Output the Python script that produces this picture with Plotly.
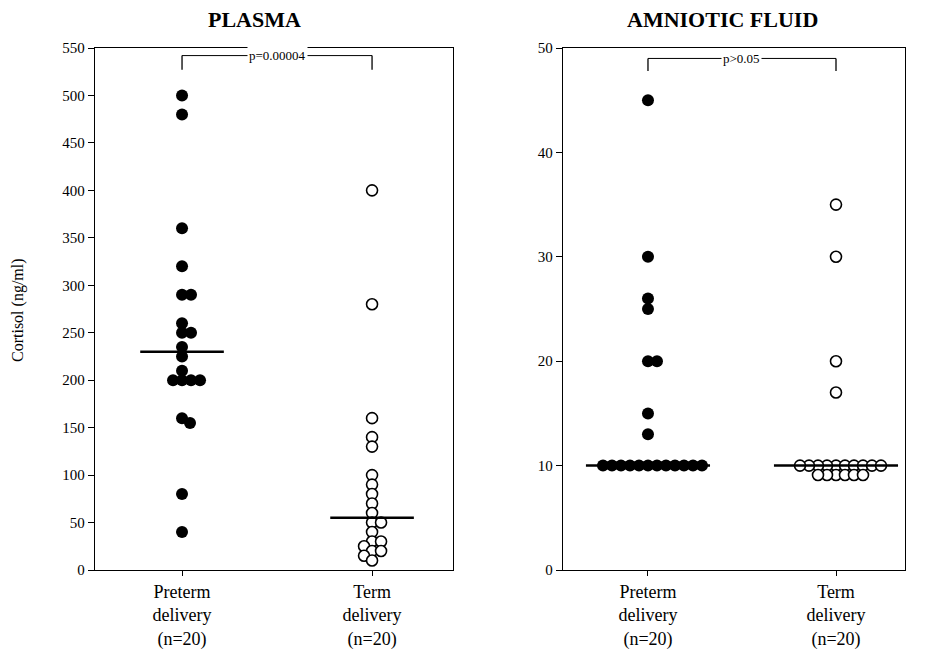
import numpy as np
import plotly.graph_objects as go

# ---- data ----
categories = ["Preterm<br>delivery<br>(n=20)", "Term<br>delivery<br>(n=20)"]
plasma_preterm = [500, 480, 360, 320, 290, 290, 260, 250, 250, 235, 225, 210,
                  200, 200, 200, 200, 160, 155, 80, 40]
plasma_term = [400, 280, 160, 140, 130, 100, 90, 80, 70, 60, 50, 50, 40, 30,
               30, 25, 20, 20, 15, 10]
amnio_preterm = [45, 30, 26, 25, 20, 20, 15, 13, 10, 10, 10, 10, 10, 10, 10,
                 10, 10, 10, 10, 10]
amnio_term = [35, 30, 20, 17, 10, 10, 10, 10, 10, 10, 10, 10, 10, 10,
              9.1, 9.1, 9.1, 9.1, 9.1, 9.1]
plasma_ticks = list(range(0, 551, 50))
amnio_ticks = list(range(0, 51, 10))
p_plasma = "p=0.00004"
p_amnio = "p>0.05"

W, H = 930, 660
OFF = 8  # page body margin
FONT = "Liberation Serif"

# panel geometry (pixels, as seen in the page)
L_X0, L_X1 = 95, 453
R_X0, R_X1 = 563, 905
Y_TOP, Y_BOT = 48, 570
L_XR = [0.542, 2.426]
R_XR = [0.548, 2.367]
L_YR = [0, 550]
R_YR = [0, 50]
D = 12  # marker diameter in px


def swarm(values, xpx_per_unit, ypx_per_unit, d=D, min_frac=0.75):
    """Simple deterministic beeswarm: returns x offsets in data units."""
    order = np.argsort(-np.asarray(values, dtype=float), kind="stable")
    placed = []
    offs = np.zeros(len(values))
    for i in order:
        ypx = values[i] * ypx_per_unit
        best = None
        for k in range(0, 300):
            for s in ([0] if k == 0 else [k, -k]):
                ok = all((s - px) ** 2 + (ypx - py) ** 2 >= (d * min_frac) ** 2 - 1e-6
                         for px, py in placed)
                if ok:
                    best = s
                    break
            if best is not None:
                break
        placed.append((best, ypx))
        offs[i] = best / xpx_per_unit
    return offs


fig = go.Figure()

panels = [
    ("x", "y", plasma_preterm, plasma_term, L_X0, L_X1, L_XR, L_YR, 0.22),
    ("x2", "y2", amnio_preterm, amnio_term, R_X0, R_X1, R_XR, R_YR, 0.33),
]

for xa, ya, pre, term, x0, x1, xr, yr, half in panels:
    xppu = (x1 - x0) / (xr[1] - xr[0])
    yppu = (Y_BOT - Y_TOP) / (yr[1] - yr[0])
    for ci, (vals, filled) in enumerate([(pre, True), (term, False)]):
        cx = ci + 1
        offs = swarm(vals, xppu, yppu)
        fig.add_trace(go.Scatter(
            x=cx + offs, y=vals, mode="markers", xaxis=xa, yaxis=ya,
            cliponaxis=False, showlegend=False,
            marker=dict(size=D if filled else D - 1,
                        color="black" if filled else "white",
                        line=dict(color="black", width=0 if filled else 1.6)),
        ))
        med = float(np.median(vals))
        fig.add_trace(go.Scatter(
            x=[cx - half, cx + half], y=[med, med], mode="lines",
            xaxis=xa, yaxis=ya, showlegend=False, cliponaxis=False,
            line=dict(color="black", width=2.5),
        ))


def bracket(xa, ya, ytop, ybot, text):
    fig.add_shape(type="line", xref=xa, yref=ya, x0=1, x1=2, y0=ytop, y1=ytop,
                  line=dict(color="black", width=1))
    fig.add_shape(type="line", xref=xa, yref=ya, x0=1, x1=1, y0=ytop, y1=ybot,
                  line=dict(color="black", width=1.3))
    fig.add_shape(type="line", xref=xa, yref=ya, x0=2, x1=2, y0=ytop, y1=ybot,
                  line=dict(color="black", width=1.3))
    fig.add_annotation(x=1.5, y=ytop, xref=xa, yref=ya, text=text,
                       showarrow=False, bgcolor="white", borderpad=1,
                       xanchor="center", yanchor="middle",
                       font=dict(family=FONT, size=13, color="black"))


bracket("x", "y", 542, 527, p_plasma)
bracket("x2", "y2", 49.0, 47.8, p_amnio)


def px2paper_x(px):
    return (px - OFF) / W


def px2paper_y(py):
    return (H - (py - OFF)) / H


ax_common = dict(showline=True, linecolor="black", linewidth=1.3, mirror=True,
                 showgrid=False, zeroline=False, ticks="outside", automargin=False,
                 tickcolor="black")
yfont = dict(family=FONT, size=15, color="black")
xfont = dict(family=FONT, size=18, color="black")

fig.update_layout(
    width=W, height=H, margin=dict(l=0, r=0, t=0, b=0, autoexpand=False),
    paper_bgcolor="white", plot_bgcolor="white",
    xaxis=dict(domain=[px2paper_x(L_X0), px2paper_x(L_X1)], range=L_XR,
               tickvals=[1, 2], ticktext=categories, ticklen=5, anchor="y",
               tickfont=xfont, **ax_common),
    yaxis=dict(domain=[px2paper_y(Y_BOT), px2paper_y(Y_TOP)], range=L_YR,
               tickvals=plasma_ticks, ticklen=6, anchor="x", tickfont=yfont,
               **ax_common),
    xaxis2=dict(domain=[px2paper_x(R_X0), px2paper_x(R_X1)], range=R_XR,
                tickvals=[1, 2], ticktext=categories, ticklen=5, anchor="y2",
                tickfont=xfont, **ax_common),
    yaxis2=dict(domain=[px2paper_y(Y_BOT), px2paper_y(Y_TOP)], range=R_YR,
                tickvals=amnio_ticks, ticklen=6, anchor="x2", tickfont=yfont,
                **ax_common),
)

fig.add_annotation(x=px2paper_x(255), y=px2paper_y(19), xref="paper", yref="paper",
                   text="<b>PLASMA</b>", showarrow=False,
                   xanchor="center", yanchor="middle",
                   font=dict(family=FONT, size=22, color="black"))
fig.add_annotation(x=px2paper_x(722), y=px2paper_y(19), xref="paper", yref="paper",
                   text="<b>AMNIOTIC FLUID</b>", showarrow=False,
                   xanchor="center", yanchor="middle",
                   font=dict(family=FONT, size=22, color="black"))
fig.add_annotation(x=px2paper_x(18), y=px2paper_y(310), xref="paper", yref="paper",
                   text="Cortisol (ng/ml)", showarrow=False, textangle=-90,
                   xanchor="center", yanchor="middle",
                   font=dict(family=FONT, size=16, color="black"))

fig.write_html("out.html")
